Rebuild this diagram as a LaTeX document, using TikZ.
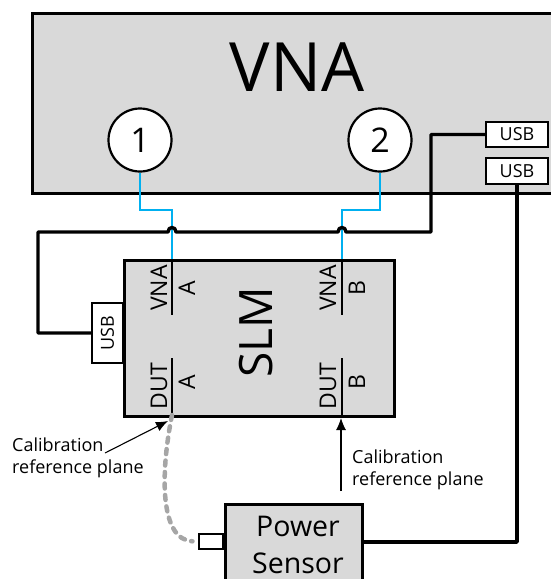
\documentclass[tikz,border=0pt]{standalone}
\usepackage{fontspec}
\setmainfont{Open Sans}
\usetikzlibrary{arrows.meta}
\definecolor{boxgray}{HTML}{D9D9D9}
\definecolor{cablue}{HTML}{00B0F0}
\definecolor{dotgray}{HTML}{A6A6A6}
\begin{document}
\begin{tikzpicture}[x=1pt,y=-1pt,
  box/.style={draw=black, line width=2.7pt, fill=boxgray, inner sep=0pt},
  wbox/.style={draw=black, line width=2.5pt, fill=white, inner sep=0pt},
  port/.style={circle, draw=black, line width=2.2pt, fill=white, minimum size=63pt, inner sep=0pt, font=\fontsize{34}{40}\selectfont},
  wire/.style={line width=3.4pt, line join=round},
  rf/.style={draw=cablue, line width=2.6pt},
  portline/.style={line width=2.7pt},
  plab/.style={rotate=90, inner sep=0pt, font=\fontsize{23}{26}\selectfont},
  usbtxt/.style={font=\fontsize{18}{20}\selectfont},
  note/.style={align=left, inner sep=0pt, font=\fontsize{18}{22}\selectfont},
  pointer/.style={line width=1.1pt, -{Latex[length=12pt,width=10pt]}},
  dotted cable/.style={draw=dotgray, line width=4.5pt, line cap=round, dash pattern=on 5pt off 6.5pt},
]
\useasboundingbox (0,0) rectangle (550,579);
% VNA
\node[box, anchor=north west, minimum width=540pt, minimum height=180pt] (vna) at (31,12) {};
\node[font=\fontsize{68}{80}\selectfont] (vnalabel) at (297,67) {VNA};
\node[port] (p1) at (140,140) {1};
\node[port] (p2) at (380,140) {2};
\node[wbox, usbtxt, minimum width=62pt, minimum height=25pt] (usb1) at (517,134.5) {USB};
\node[wbox, usbtxt, minimum width=62pt, minimum height=26pt] (usb2) at (517,171) {USB};
% SLM
\node[box, anchor=north west, minimum width=270pt, minimum height=156pt] (slm) at (123,259) {};
\node[rotate=90, font=\fontsize{46}{50}\selectfont] (slmlabel) at (256,332) {SLM};
\node[wbox, usbtxt, rotate=90, minimum width=60pt, minimum height=31pt] (slmusb) at (107.5,333) {USB};
\coordinate (vnaA) at (172,259);
\coordinate (vnaAend) at (172,315);
\coordinate (dutAtop) at (172,358);
\coordinate (dutA) at (172,415);
\coordinate (vnaB) at (342,259);
\coordinate (vnaBend) at (342,315);
\coordinate (dutBtop) at (342,358);
\coordinate (dutB) at (342,415);
\draw[portline] (vnaA) -- (vnaAend);
\draw[portline] (dutAtop) -- (dutA);
\draw[portline] (vnaB) -- (vnaBend);
\draw[portline] (dutBtop) -- (dutB);
\node[plab] (lvA) at (159,288) {VNA};
\node[plab] (lvA2) at (187,288) {A};
\node[plab] (ldA) at (159,386) {DUT};
\node[plab] (ldA2) at (187,382) {A};
\node[plab] (lvB) at (328,288) {VNA};
\node[plab] (lvB2) at (357,288) {B};
\node[plab] (ldB) at (328,386) {DUT};
\node[plab] (ldB2) at (357,382) {B};
% RF cables
\draw[rf] (p1.south) -- (140,210) -- (172,210) -- (vnaA);
\draw[rf] (p2.south) -- (380,210) -- (342,210) -- (vnaB);
% USB cable VNA -> SLM with hops
\draw[wire] (usb1.west) -- (431,134.5) -- (431,232) -- (346,232)
  .. controls (346,226) and (338,226) .. (338,232) -- (176,232)
  .. controls (176,226) and (168,226) .. (168,232) -- (38,232) -- (38,333) -- (slmusb.north);
% Power sensor
\node[box, anchor=north west, minimum width=137pt, minimum height=90pt] (ps) at (224,503) {};
\node[font=\fontsize{28.5}{37}\selectfont, align=center, inner sep=0pt] (pslabel) at (298,545) {Power\\Sensor};
\node[wbox, minimum width=24pt, minimum height=15pt, anchor=east] (stub) at (224,541.5) {};
\coordinate (psin) at (361,542);
\draw[wire] (usb2.south) |- (psin);
% dotted cable
\draw[dotted cable, shorten >=5pt] (dutA) .. controls (160,475) and (160,540) .. (stub.west);
% calibration planes
\node[note, anchor=west] (cal1) at (12,458) {Calibration\\reference plane};
\node[note, anchor=west] (cal2) at (352,470) {Calibration\\reference plane};
\coordinate (c1s) at (105,453);
\coordinate (c1e) at (168,421);
\draw[pointer] (c1s) -- (c1e);
\coordinate (c2s) at (341,491);
\coordinate (c2e) at (341,418);
\draw[pointer] (c2s) -- (c2e);
\end{tikzpicture}
\end{document}
